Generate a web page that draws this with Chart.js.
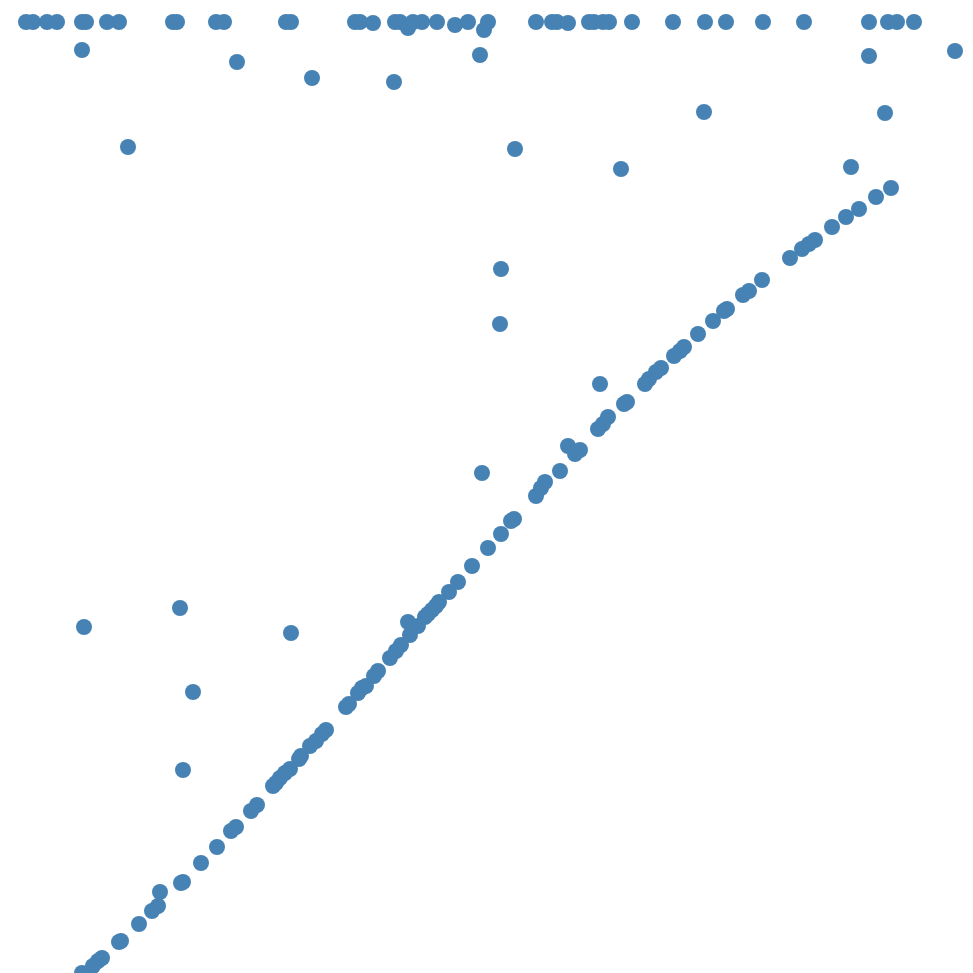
<!DOCTYPE html>
<html>
<head>
<meta charset="utf-8">
<script src="https://cdn.jsdelivr.net/npm/chart.js@4/dist/chart.umd.min.js"></script>
<style>
html,body{margin:0;padding:0;background:#fff;}
#wrap{width:973px;height:973px;}
</style>
</head>
<body>
<div id="wrap"><canvas id="c" width="973" height="973"></canvas></div>
<script>
// Points along the top cap
const capX = [26,33,47,57,82,86,107,119,173,177,216,224,286,291,355,360,373,395,400,408,413,422,437,455,468,484,488,536,552,557,568,589,594,603,609,632,673,705,726,763,804,869,888,897,914];
const capY = [951,951,951,951,951,951,951,951,951,951,951,951,951,951,951,951,950,951,951,945,951,951,951,948,951,943,951,951,951,951,950,951,951,951,951,951,951,951,951,951,951,951,951,951,951];

// Scattered outliers
const outX = [82,237,312,394,480,869,955,128,515,704,885,851,621,501,500,600,482,84,180,291,193,183,408];
const outY = [923,911,895,891,918,917,922,826,824,861,860,806,804,704,649,589,500,346,365,340,281,203,351];

// Points along the diagonal trend
const diagX = [891,876,859,846,832,815,809,802,790,762,749,743,727,724,713,698,684,680,674,661,656,649,645,627,624,608,603,598,580,575,568,560,545,541,536,514,511,501,488,472,458,449,439,436,432,428,425,418,410,401,396,390,378,374,366,362,358,349,346,326,322,316,310,301,299,290,285,280,276,273,257,251,236,231,217,201,183,181,160,158,152,139,121,119,102,98,93,82];
const diagY = [785,776,764,756,746,733,729,724,715,693,682,678,664,662,652,639,626,622,617,605,601,594,589,571,569,556,549,544,523,519,527,502,491,485,477,454,452,439,425,407,391,381,371,367,363,359,356,347,338,328,322,315,302,297,287,285,280,269,266,243,239,232,227,217,214,204,200,195,190,187,168,162,146,142,126,110,91,90,81,67,62,49,32,31,15,12,7,0];

const allX = capX.concat(outX, diagX);
const allY = capY.concat(outY, diagY);
const pts = allX.map((x, i) => ({x: x, y: allY[i]}));

new Chart(document.getElementById('c'), {
  type: 'scatter',
  data: {
    datasets: [{
      data: pts,
      backgroundColor: '#4682b4',
      borderColor: '#4682b4',
      borderWidth: 0,
      pointRadius: 8,
      pointHoverRadius: 8
    }]
  },
  options: {
    responsive: false,
    animation: false,
    devicePixelRatio: 1,
    layout: {padding: 0, autoPadding: false},
    plugins: {legend: {display: false}, tooltip: {enabled: false}},
    scales: {
      x: {type: 'linear', min: 0, max: 973, display: false},
      y: {type: 'linear', min: 0, max: 973, display: false}
    }
  }
});
</script>
</body>
</html>
